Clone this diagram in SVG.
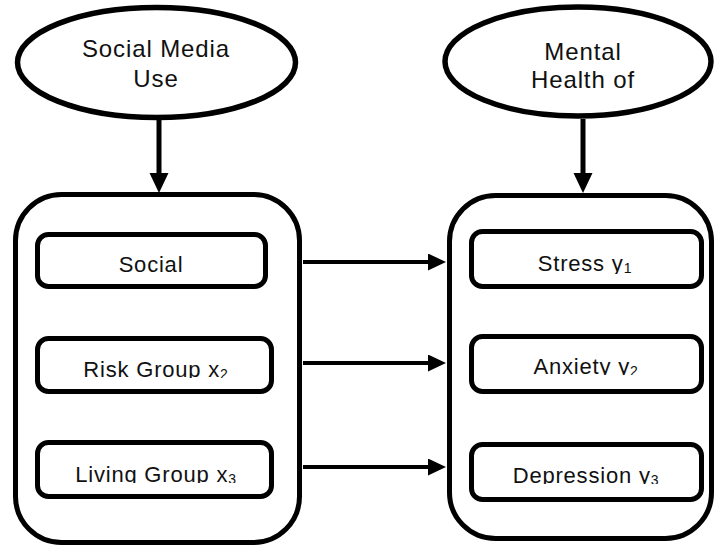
<svg xmlns="http://www.w3.org/2000/svg" width="714" height="546" viewBox="0 0 714 546">
  <style>
    .shape { fill: #ffffff; stroke: #000000; }
    .oval { stroke-width: 5.5; }
    .outer { stroke-width: 5; }
    .inner { stroke-width: 5; }
    .lbl { font-family: "Liberation Sans", Arial, sans-serif; fill: #111111; text-anchor: middle; }
    .big { font-size: 24px; letter-spacing: 0.9px; }
    .box { font-size: 22px; letter-spacing: 0.8px; }
    .sub { font-size: 14px; }
    .conn { stroke: #000000; fill: none; }
    .vert { stroke-width: 5; }
    .horz { stroke-width: 4; }
  </style>
  <defs>
    <marker id="headV" markerUnits="userSpaceOnUse" markerWidth="20" markerHeight="20" refX="0" refY="9.5" orient="auto" viewBox="0 0 20 19">
      <path d="M0,0 L20,9.5 L0,19 Z" fill="#000000"/>
    </marker>
    <marker id="headH" markerUnits="userSpaceOnUse" markerWidth="18" markerHeight="17" refX="0" refY="8.5" orient="auto" viewBox="0 0 18 17">
      <path d="M0,0 L18,8.5 L0,17 Z" fill="#000000"/>
    </marker>
    <clipPath id="c-x1"><rect x="40" y="237" width="222" height="38"/></clipPath>
    <clipPath id="c-x2"><rect x="40" y="341" width="230" height="37"/></clipPath>
    <clipPath id="c-x3"><rect x="40" y="445" width="230" height="38"/></clipPath>
    <clipPath id="c-y1"><rect x="473" y="233" width="227" height="41"/></clipPath>
    <clipPath id="c-y2"><rect x="473" y="338" width="227" height="37"/></clipPath>
    <clipPath id="c-y3"><rect x="473" y="446" width="227" height="38"/></clipPath>
  </defs>

  <g id="connectors">
    <line class="conn vert" x1="159" y1="120" x2="159" y2="173" marker-end="url(#headV)"/>
    <line class="conn vert" x1="583" y1="119" x2="583" y2="173" marker-end="url(#headV)"/>
    <line class="conn horz" x1="303" y1="262" x2="428" y2="262" marker-end="url(#headH)"/>
    <line class="conn horz" x1="303" y1="363" x2="428" y2="363" marker-end="url(#headH)"/>
    <line class="conn horz" x1="303" y1="467" x2="428" y2="467" marker-end="url(#headH)"/>
  </g>

  <g id="social-media-use">
    <ellipse class="shape oval" cx="156.5" cy="62.5" rx="139" ry="55"/>
    <text class="lbl big" x="156" y="57">Social Media</text>
    <text class="lbl big" x="156" y="87">Use</text>
  </g>

  <g id="mental-health">
    <ellipse class="shape oval" cx="578" cy="61.5" rx="133" ry="54.5"/>
    <text class="lbl big" x="583" y="60">Mental</text>
    <text class="lbl big" x="583" y="88">Health of</text>
  </g>

  <g id="independent-group">
    <rect class="shape outer" x="15.5" y="194.5" width="284" height="348" rx="46"/>
  </g>

  <g id="dependent-group">
    <rect class="shape outer" x="449.5" y="195.5" width="262" height="343" rx="46"/>
  </g>

  <g id="x1">
    <rect class="shape inner" x="37.5" y="234.5" width="228" height="52" rx="11"/>
    <text class="lbl box" x="151" y="272" clip-path="url(#c-x1)">Social</text>
  </g>

  <g id="x2">
    <rect class="shape inner" x="37.5" y="338.5" width="234" height="53" rx="11"/>
    <text class="lbl box" x="156" y="377" clip-path="url(#c-x2)">Risk Group x<tspan class="sub" dy="2">2</tspan></text>
  </g>

  <g id="x3">
    <rect class="shape inner" x="37.5" y="442.5" width="234" height="54" rx="11"/>
    <text class="lbl box" x="156" y="482" clip-path="url(#c-x3)">Living Group x<tspan class="sub" dy="2">3</tspan></text>
  </g>

  <g id="y1">
    <rect class="shape inner" x="471.5" y="231.5" width="230" height="55" rx="11"/>
    <text class="lbl box" x="585" y="271" clip-path="url(#c-y1)">Stress y<tspan class="sub" dy="2">1</tspan></text>
  </g>

  <g id="y2">
    <rect class="shape inner" x="471.5" y="336.5" width="230" height="55" rx="11"/>
    <text class="lbl box" x="586" y="374" clip-path="url(#c-y2)">Anxiety y<tspan class="sub" dy="2">2</tspan></text>
  </g>

  <g id="y3">
    <rect class="shape inner" x="471.5" y="444.5" width="230" height="55" rx="11"/>
    <text class="lbl box" x="586" y="483" clip-path="url(#c-y3)">Depression y<tspan class="sub" dy="2">3</tspan></text>
  </g>
</svg>
